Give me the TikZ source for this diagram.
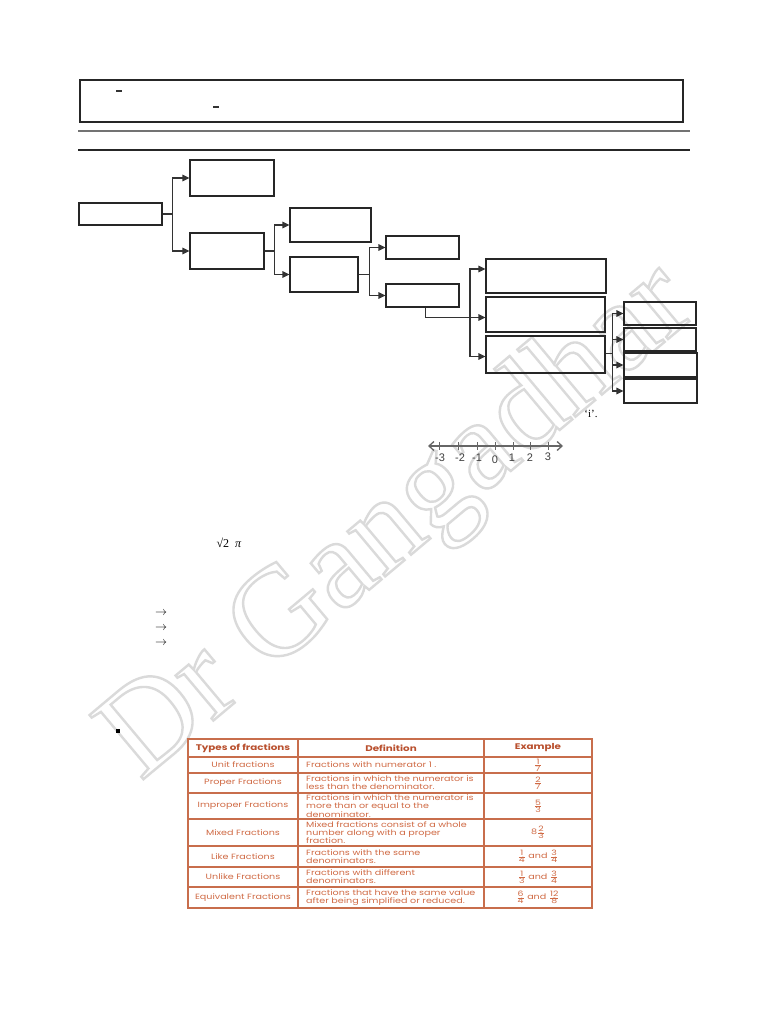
\documentclass[tikz,border=0pt]{standalone}
\usepackage{fontspec}
\setmainfont{Liberation Serif}
\newfontfamily\pop[FakeStretch=1.26]{Poppins}
\newfontfamily\arial{Liberation Sans}
\usetikzlibrary{arrows.meta,calc}
\definecolor{tline}{HTML}{C86E4C}
\definecolor{thead}{HTML}{B9502E}
\definecolor{tbody}{HTML}{D06A44}
\definecolor{wm}{HTML}{DADADA}
\newcommand\myfr[2]{$\frac{\hbox{\pop\fontsize{7.4}{7.4}\selectfont #1}}{\hbox{\pop\fontsize{7.4}{7.4}\selectfont #2}}$}
\newcommand\outon{\special{pdf:literal direct 1 Tr 2.4 w}}
\newcommand\outoff{\special{pdf:literal direct 0 Tr}}
\tikzset{
  tbox/.style={draw=black!85, line width=1.1pt, rectangle, inner sep=0pt},
  conn/.style={draw=black!80, line width=1.1pt, -{Triangle[length=7pt,width=6.5pt]}},
  plain/.style={draw=black!80, line width=1.1pt},
  tcell/.style={font=\pop\fontsize{7.6}{8.2}\selectfont, text=tbody, inner sep=0pt},
  thd/.style={font=\pop\bfseries\fontsize{8.2}{9}\selectfont, text=thead, inner sep=0pt},
  nlab/.style={font=\arial\fontsize{11}{11}\selectfont, text=black!75, inner sep=0pt}
}
\begin{document}
\begin{tikzpicture}[x=1pt,y=-1pt]
\useasboundingbox (0,0) rectangle (768,1024);
\fill[white] (0,0) rectangle (768,1024);
% watermark
\node[text=wm, rotate=40, font=\fontsize{128}{128}\selectfont, inner sep=0pt] (wmark) at (400,524) {\outon Dr Gangadhar\outoff};
% header box and rules
\node[tbox, minimum width=603pt, minimum height=42pt] (top) at (381.5,101) {};
\draw[line width=1.6pt, black!80] (116,91) -- (122,91);
\draw[line width=1.6pt, black!80] (213,107) -- (219,107);
\draw[line width=1.6pt, black!55] (78,131) -- (690,131);
\draw[line width=2.2pt, black!85] (78,150) -- (690,150);
% tree boxes
\node[tbox, minimum width=83pt, minimum height=22pt] (A) at (120.5,214) {};
\node[tbox, minimum width=84pt, minimum height=36pt] (B) at (232,178) {};
\node[tbox, minimum width=74pt, minimum height=36pt] (C) at (227,251) {};
\node[tbox, minimum width=81pt, minimum height=34pt] (D) at (330.5,225) {};
\node[tbox, minimum width=68pt, minimum height=35pt] (E) at (324,274.5) {};
\node[tbox, minimum width=73pt, minimum height=23pt] (F) at (422.5,247.5) {};
\node[tbox, minimum width=73pt, minimum height=23pt] (G) at (422.5,295.5) {};
\node[tbox, minimum width=120pt, minimum height=34pt] (H) at (546,276) {};
\node[tbox, minimum width=119pt, minimum height=35pt] (I) at (545.5,314.5) {};
\node[tbox, minimum width=119pt, minimum height=37pt] (J) at (545.5,354.5) {};
\node[tbox, minimum width=72pt, minimum height=23pt] (K) at (660,313.5) {};
\node[tbox, minimum width=72pt, minimum height=23pt] (L) at (660,339.5) {};
\node[tbox, minimum width=73pt, minimum height=24pt] (M) at (660.5,365) {};
\node[tbox, minimum width=73pt, minimum height=24pt] (N) at (660.5,391) {};
% connectors
\draw[plain] (A.east) -- ++(10,0) coordinate (a1);
\draw[conn] (a1) |- (B.west);
\draw[conn] (a1) |- (C.west);
\draw[plain] (C.east) -- ++(10,0) coordinate (c1);
\draw[conn] (c1) |- (D.west);
\draw[conn] (c1) |- (E.west);
\draw[plain] (E.east) -- ++(11,0) coordinate (e1);
\draw[conn] (e1) |- (F.west);
\draw[conn] (e1) |- (G.west);
\draw[conn] ([xshift=3pt]G.south) |- ([yshift=-3pt]I.west);
\coordinate (t1) at (470,318);
\draw[conn] (t1) |- ([yshift=7pt]H.west);
\draw[conn] (t1) |- ([yshift=-2pt]J.west);
\draw[plain] ([yshift=1pt]J.east) -- ++(7,0) coordinate (j1);
\draw[conn] (j1) |- (K.west);
\draw[conn] (j1) |- (L.west);
\draw[conn] (j1) |- (M.west);
\draw[conn] (j1) |- (N.west);
\node[font=\fontsize{11}{11}\selectfont, inner sep=0pt] (iq) at (591,414) {‘i’.};
% number line
\coordinate (nl) at (428,446);
\coordinate (nr) at (563,446);
\draw[black!60, line width=1.3pt, {Straight Barb[length=5pt,width=9pt]}-{Straight Barb[length=5pt,width=9pt]}] (nl) -- (nr);
\foreach \x in {439,458,477,495,513,530,548}{
  \draw[black!60, line width=0.9pt] (\x,442) -- (\x,450);
}
\node[nlab] (n1) at (440,458) {-3};
\node[nlab] (n2) at (460,458) {-2};
\node[nlab] (n3) at (477,458) {-1};
\node[nlab] (n4) at (495,460) {0};
\node[nlab] (n5) at (512,458) {1};
\node[nlab] (n6) at (530,458) {2};
\node[nlab] (n7) at (548,457) {3};
% sqrt2 pi
\node[font=\fontsize{12}{12}\selectfont, inner sep=0pt] (sq) at (229,543) {√2\ \ \textit{π}};
% arrows
\node[inner sep=0pt, font=\fontsize{12}{12}\selectfont] (r1) at (161,613) {$\rightarrow$};
\node[inner sep=0pt, font=\fontsize{12}{12}\selectfont] (r2) at (161,628) {$\rightarrow$};
\node[inner sep=0pt, font=\fontsize{12}{12}\selectfont] (r3) at (161,643) {$\rightarrow$};
% bullet
\node[fill=black, minimum size=4pt, inner sep=0pt] (bul) at (118,731) {};
% table
\draw[tline, line width=1.2pt] (188,739) rectangle (592,908);
\foreach \yy in {757,773,793,819,846,867,887}{
  \draw[tline, line width=1.1pt] (188,\yy) -- (592,\yy);
}
\draw[tline, line width=1.1pt] (298,739) -- (298,908);
\draw[tline, line width=1.1pt] (484,739) -- (484,908);
\node[thd] (h1) at (243,748) {Types of fractions};
\node[thd] (h2) at (391,748) {Definition};
\node[thd] (h3) at (538,748) {Example};
% col1
\node[tcell] (c11) at (243,765) {Unit fractions};
\node[tcell] (c12) at (243,783) {Proper Fractions};
\node[tcell] (c13) at (243,806) {Improper Fractions};
\node[tcell] (c14) at (243,832.5) {Mixed Fractions};
\node[tcell] (c15) at (243,856.5) {Like Fractions};
\node[tcell] (c16) at (243,877) {Unlike Fractions};
\node[tcell] (c17) at (243,897.5) {Equivalent Fractions};
% col2
\node[tcell, anchor=west, align=left] (c21) at (306,765) {Fractions with numerator 1 .};
\node[tcell, anchor=west, align=left] (c22) at (306,783) {Fractions in which the numerator is\\less than the denominator.};
\node[tcell, anchor=west, align=left] (c23) at (306,806) {Fractions in which the numerator is\\more than or equal to the\\denominator.};
\node[tcell, anchor=west, align=left] (c24) at (306,832.5) {Mixed fractions consist of a whole\\number along with a proper\\fraction.};
\node[tcell, anchor=west, align=left] (c25) at (306,856.5) {Fractions with the same\\denominators.};
\node[tcell, anchor=west, align=left] (c26) at (306,877) {Fractions with different\\denominators.};
\node[tcell, anchor=west, align=left] (c27) at (306,897.5) {Fractions that have the same value\\after being simplified or reduced.};
% col3
\node[tcell] (c31) at (538,765) {\myfr{1}{7}};
\node[tcell] (c32) at (538,783) {\myfr{2}{7}};
\node[tcell] (c33) at (538,806) {\myfr{5}{3}};
\node[tcell] (c34) at (538,832.5) {8\myfr{2}{3}};
\node[tcell] (c35) at (538,856.5) {\myfr{1}{4} and \myfr{3}{4}};
\node[tcell] (c36) at (538,877) {\myfr{1}{3} and \myfr{3}{4}};
\node[tcell] (c37) at (538,897.5) {\myfr{6}{4} and \myfr{12}{8}};
\end{tikzpicture}
\end{document}
